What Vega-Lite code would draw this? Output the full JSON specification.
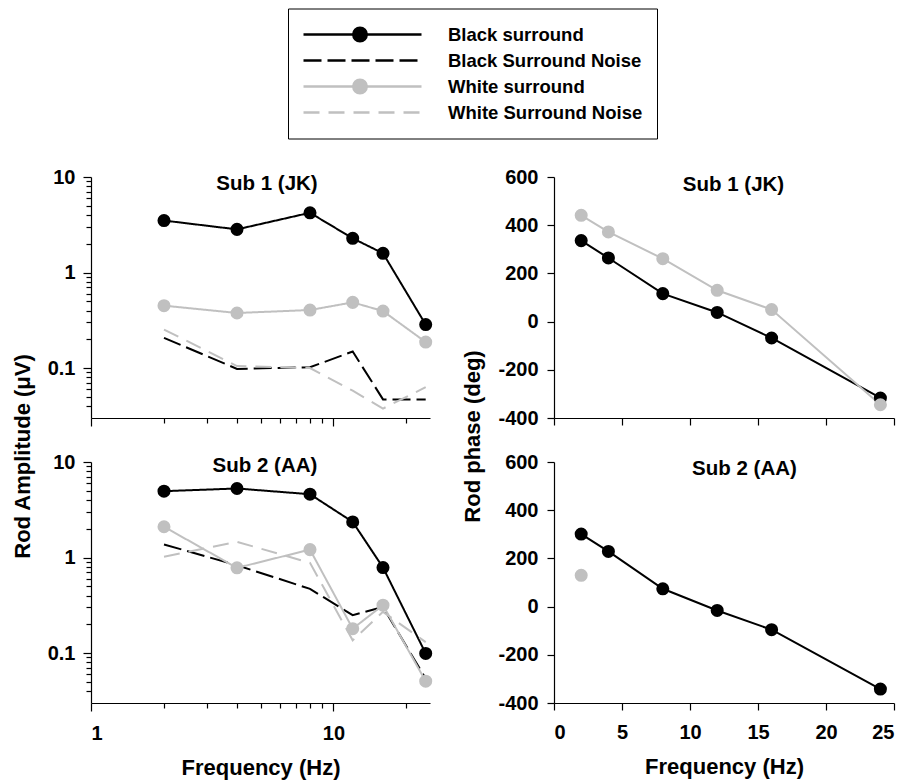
{
  "$schema": "https://vega.github.io/schema/vega-lite/v6.json",
  "background": "white",
  "padding": {"left": 10, "top": 8, "right": 5, "bottom": 5},
  "datasets": {
    "amp": [
      {"subject": "Sub 1 (JK)", "series": "Black surround", "freq": 2, "amp": 3.5},
      {"subject": "Sub 1 (JK)", "series": "Black surround", "freq": 4, "amp": 2.83},
      {"subject": "Sub 1 (JK)", "series": "Black surround", "freq": 8, "amp": 4.22},
      {"subject": "Sub 1 (JK)", "series": "Black surround", "freq": 12, "amp": 2.28},
      {"subject": "Sub 1 (JK)", "series": "Black surround", "freq": 16, "amp": 1.59},
      {"subject": "Sub 1 (JK)", "series": "Black surround", "freq": 24, "amp": 0.285},
      {"subject": "Sub 1 (JK)", "series": "Black Surround Noise", "freq": 2, "amp": 0.207},
      {"subject": "Sub 1 (JK)", "series": "Black Surround Noise", "freq": 4, "amp": 0.098},
      {"subject": "Sub 1 (JK)", "series": "Black Surround Noise", "freq": 8, "amp": 0.102},
      {"subject": "Sub 1 (JK)", "series": "Black Surround Noise", "freq": 12, "amp": 0.149},
      {"subject": "Sub 1 (JK)", "series": "Black Surround Noise", "freq": 16, "amp": 0.047},
      {"subject": "Sub 1 (JK)", "series": "Black Surround Noise", "freq": 24, "amp": 0.047},
      {"subject": "Sub 1 (JK)", "series": "White surround", "freq": 2, "amp": 0.45},
      {"subject": "Sub 1 (JK)", "series": "White surround", "freq": 4, "amp": 0.377},
      {"subject": "Sub 1 (JK)", "series": "White surround", "freq": 8, "amp": 0.405},
      {"subject": "Sub 1 (JK)", "series": "White surround", "freq": 12, "amp": 0.487},
      {"subject": "Sub 1 (JK)", "series": "White surround", "freq": 16, "amp": 0.395},
      {"subject": "Sub 1 (JK)", "series": "White surround", "freq": 24, "amp": 0.187},
      {"subject": "Sub 1 (JK)", "series": "White Surround Noise", "freq": 2, "amp": 0.253},
      {"subject": "Sub 1 (JK)", "series": "White Surround Noise", "freq": 4, "amp": 0.105},
      {"subject": "Sub 1 (JK)", "series": "White Surround Noise", "freq": 8, "amp": 0.1},
      {"subject": "Sub 1 (JK)", "series": "White Surround Noise", "freq": 12, "amp": 0.058},
      {"subject": "Sub 1 (JK)", "series": "White Surround Noise", "freq": 16, "amp": 0.0377},
      {"subject": "Sub 1 (JK)", "series": "White Surround Noise", "freq": 24, "amp": 0.063},
      {"subject": "Sub 2 (AA)", "series": "Black surround", "freq": 2, "amp": 4.95},
      {"subject": "Sub 2 (AA)", "series": "Black surround", "freq": 4, "amp": 5.28},
      {"subject": "Sub 2 (AA)", "series": "Black surround", "freq": 8, "amp": 4.6},
      {"subject": "Sub 2 (AA)", "series": "Black surround", "freq": 12, "amp": 2.36},
      {"subject": "Sub 2 (AA)", "series": "Black surround", "freq": 16, "amp": 0.786},
      {"subject": "Sub 2 (AA)", "series": "Black surround", "freq": 24, "amp": 0.099},
      {"subject": "Sub 2 (AA)", "series": "Black Surround Noise", "freq": 2, "amp": 1.37},
      {"subject": "Sub 2 (AA)", "series": "Black Surround Noise", "freq": 4, "amp": 0.83},
      {"subject": "Sub 2 (AA)", "series": "Black Surround Noise", "freq": 8, "amp": 0.47},
      {"subject": "Sub 2 (AA)", "series": "Black Surround Noise", "freq": 12, "amp": 0.249},
      {"subject": "Sub 2 (AA)", "series": "Black Surround Noise", "freq": 16, "amp": 0.304},
      {"subject": "Sub 2 (AA)", "series": "Black Surround Noise", "freq": 24, "amp": 0.054},
      {"subject": "Sub 2 (AA)", "series": "White surround", "freq": 2, "amp": 2.1},
      {"subject": "Sub 2 (AA)", "series": "White surround", "freq": 4, "amp": 0.78},
      {"subject": "Sub 2 (AA)", "series": "White surround", "freq": 8, "amp": 1.21},
      {"subject": "Sub 2 (AA)", "series": "White surround", "freq": 12, "amp": 0.18},
      {"subject": "Sub 2 (AA)", "series": "White surround", "freq": 16, "amp": 0.317},
      {"subject": "Sub 2 (AA)", "series": "White surround", "freq": 24, "amp": 0.0507},
      {"subject": "Sub 2 (AA)", "series": "White Surround Noise", "freq": 2, "amp": 1.02},
      {"subject": "Sub 2 (AA)", "series": "White Surround Noise", "freq": 4, "amp": 1.46},
      {"subject": "Sub 2 (AA)", "series": "White Surround Noise", "freq": 8, "amp": 0.88},
      {"subject": "Sub 2 (AA)", "series": "White Surround Noise", "freq": 12, "amp": 0.136},
      {"subject": "Sub 2 (AA)", "series": "White Surround Noise", "freq": 16, "amp": 0.27},
      {"subject": "Sub 2 (AA)", "series": "White Surround Noise", "freq": 24, "amp": 0.13}
    ],
    "phase": [
      {"subject": "Sub 1 (JK)", "series": "Black surround", "freq": 2, "phase": 336},
      {"subject": "Sub 1 (JK)", "series": "Black surround", "freq": 4, "phase": 264},
      {"subject": "Sub 1 (JK)", "series": "Black surround", "freq": 8, "phase": 116},
      {"subject": "Sub 1 (JK)", "series": "Black surround", "freq": 12, "phase": 38},
      {"subject": "Sub 1 (JK)", "series": "Black surround", "freq": 16, "phase": -68},
      {"subject": "Sub 1 (JK)", "series": "Black surround", "freq": 24, "phase": -317},
      {"subject": "Sub 1 (JK)", "series": "White surround", "freq": 2, "phase": 441},
      {"subject": "Sub 1 (JK)", "series": "White surround", "freq": 4, "phase": 372},
      {"subject": "Sub 1 (JK)", "series": "White surround", "freq": 8, "phase": 261},
      {"subject": "Sub 1 (JK)", "series": "White surround", "freq": 12, "phase": 130},
      {"subject": "Sub 1 (JK)", "series": "White surround", "freq": 16, "phase": 50},
      {"subject": "Sub 1 (JK)", "series": "White surround", "freq": 24, "phase": -345},
      {"subject": "Sub 2 (AA)", "series": "Black surround", "freq": 2, "phase": 301},
      {"subject": "Sub 2 (AA)", "series": "Black surround", "freq": 4, "phase": 229},
      {"subject": "Sub 2 (AA)", "series": "Black surround", "freq": 8, "phase": 74},
      {"subject": "Sub 2 (AA)", "series": "Black surround", "freq": 12, "phase": -16},
      {"subject": "Sub 2 (AA)", "series": "Black surround", "freq": 16, "phase": -96},
      {"subject": "Sub 2 (AA)", "series": "Black surround", "freq": 24, "phase": -342},
      {"subject": "Sub 2 (AA)", "series": "White surround", "freq": 2, "phase": 130}
    ]
  },
  "columns": 2,
  "spacing": {"row": 44, "column": 124},
  "bounds": "flush",
  "concat": [
    {
      "width": 339, "height": 241,
      "data": {"name": "amp"},
      "transform": [{"filter": "datum.subject == 'Sub 1 (JK)'"}],
      "resolve": {"axis": {"x": "independent"}},
      "encoding": {
        "x": {"field": "freq", "type": "quantitative",
          "scale": {"type": "log", "domain": [1, 25], "nice": false},
          "axis": {"title": null, "labels": false, "values": [1, 2, 3, 4, 5, 6, 7, 8, 9, 10, 20],
            "tickSize": {"condition": {"test": "datum.value == 1 || datum.value == 10", "value": 8}, "value": 5}}},
        "y": {"field": "amp", "type": "quantitative",
          "scale": {"type": "log", "domain": [0.03, 10], "nice": false},
          "axis": {"title": null, "values": [0.04, 0.05, 0.06, 0.07, 0.08, 0.09, 0.1, 0.2, 0.3, 0.4, 0.5, 0.6, 0.7, 0.8, 0.9, 1, 2, 3, 4, 5, 6, 7, 8, 9, 10],
            "labelExpr": "datum.value == 0.1 ? '0.1' : datum.value == 1 ? '1' : datum.value == 10 ? '10' : ''",
            "labelPadding": 8,
            "tickSize": {"condition": {"test": "datum.value == 0.1 || datum.value == 1 || datum.value == 10", "value": 8}, "value": 5}}}
      },
      "layer": [
        {
          "mark": {"type": "line", "strokeWidth": 2},
          "encoding": {
            "color": {"field": "series", "type": "nominal",
              "scale": {"domain": ["Black surround", "Black Surround Noise", "White surround", "White Surround Noise"], "range": ["black", "black", "#c0c0c0", "#c0c0c0"]},
              "legend": {
                "title": null, "orient": "none", "legendX": 197, "legendY": -168.5,
                "padding": 14, "strokeColor": "black",
                "symbolType": "stroke", "symbolSize": 13924, "symbolStrokeWidth": 2.5, "clipHeight": 24, "rowPadding": 2,
                "labelOffset": 25, "labelFont": "Liberation Sans", "labelFontWeight": "bold", "labelFontSize": 18.5, "labelColor": "black", "labelLimit": 400
              }},
            "strokeDash": {"field": "series", "type": "nominal",
              "scale": {"domain": ["Black surround", "Black Surround Noise", "White surround", "White Surround Noise"], "range": [[1, 0], [18, 6], [1, 0], [16, 9]]}}
          }
        },
        {
          "transform": [{"filter": "indexof(datum.series, 'Noise') < 0"}],
          "mark": {"type": "circle", "size": 170, "opacity": 1},
          "encoding": {
            "x": {"field": "freq", "type": "quantitative",
              "scale": {"type": "log", "domain": [1, 25], "nice": false},
              "axis": {"orient": "top", "title": "Sub 1 (JK)", "domain": false, "ticks": false, "labels": false,
                "titleX": 175.5, "titleY": 12, "titleBaseline": "alphabetic", "titleFontSize": 20.5}},
            "fill": {"field": "series", "type": "nominal",
            "scale": {"range": ["black", "#c0c0c0"]},
            "legend": {
              "title": null, "orient": "none", "legendX": 247, "legendY": -168.5,
              "values": ["Black surround", "Black Surround Noise", "White surround", "White Surround Noise"],
              "symbolType": "circle", "symbolSize": 254, "symbolStrokeWidth": 0, "symbolOpacity": 1,
              "padding": 14, "clipHeight": 24, "rowPadding": 2, "labelExpr": "''"
            }}}
        }
      ]
    },
    {
      "width": 340, "height": 241,
      "data": {"name": "phase"},
      "transform": [{"filter": "datum.subject == 'Sub 1 (JK)'"}],
      "resolve": {"axis": {"x": "independent"}},
      "encoding": {
        "x": {"field": "freq", "type": "quantitative",
          "scale": {"domain": [0, 25], "nice": false},
          "axis": {"title": null, "labels": false, "values": [0, 5, 10, 15, 20, 25], "tickSize": 7}},
        "y": {"field": "phase", "type": "quantitative",
          "scale": {"domain": [-400, 600], "nice": false},
          "axis": {"title": null, "values": [-400, -200, 0, 200, 400, 600], "tickSize": 7, "labelPadding": 9, "labelExpr": "'' + datum.value"}}
      },
      "layer": [
        {
          "mark": {"type": "line", "strokeWidth": 2},
          "encoding": {"color": {"field": "series", "type": "nominal"}}
        },
        {
          "mark": {"type": "circle", "size": 170, "opacity": 1},
          "encoding": {
            "x": {"field": "freq", "type": "quantitative",
              "scale": {"domain": [0, 25], "nice": false},
              "axis": {"orient": "top", "title": "Sub 1 (JK)", "domain": false, "ticks": false, "labels": false,
                "titleX": 179, "titleY": 13, "titleBaseline": "alphabetic", "titleFontSize": 20.5}},
            "fill": {"field": "series", "type": "nominal"}}
        }
      ]
    },
    {
      "width": 339, "height": 241,
      "data": {"name": "amp"},
      "transform": [{"filter": "datum.subject == 'Sub 2 (AA)'"}],
      "resolve": {"axis": {"x": "independent"}},
      "encoding": {
        "x": {"field": "freq", "type": "quantitative",
          "scale": {"type": "log", "domain": [1, 25], "nice": false},
          "axis": {"title": "Frequency (Hz)", "values": [1, 2, 3, 4, 5, 6, 7, 8, 9, 10, 20],
            "labelExpr": "datum.value == 1 ? '1' : datum.value == 10 ? '10' : ''",
            "labelPadding": 12, "titlePadding": 14,
            "tickSize": {"condition": {"test": "datum.value == 1 || datum.value == 10", "value": 8}, "value": 5}}},
        "y": {"field": "amp", "type": "quantitative",
          "scale": {"type": "log", "domain": [0.03, 10], "nice": false},
          "axis": {"title": "Rod Amplitude (μV)", "titleX": -57, "titleY": -6,
            "values": [0.04, 0.05, 0.06, 0.07, 0.08, 0.09, 0.1, 0.2, 0.3, 0.4, 0.5, 0.6, 0.7, 0.8, 0.9, 1, 2, 3, 4, 5, 6, 7, 8, 9, 10],
            "labelExpr": "datum.value == 0.1 ? '0.1' : datum.value == 1 ? '1' : datum.value == 10 ? '10' : ''",
            "labelPadding": 8,
            "tickSize": {"condition": {"test": "datum.value == 0.1 || datum.value == 1 || datum.value == 10", "value": 8}, "value": 5}}}
      },
      "layer": [
        {
          "mark": {"type": "line", "strokeWidth": 2},
          "encoding": {
            "color": {"field": "series", "type": "nominal"},
            "strokeDash": {"field": "series", "type": "nominal"}
          }
        },
        {
          "transform": [{"filter": "indexof(datum.series, 'Noise') < 0"}],
          "mark": {"type": "circle", "size": 170, "opacity": 1},
          "encoding": {
            "x": {"field": "freq", "type": "quantitative",
              "scale": {"type": "log", "domain": [1, 25], "nice": false},
              "axis": {"orient": "top", "title": "Sub 2 (AA)", "domain": false, "ticks": false, "labels": false,
                "titleX": 173.5, "titleY": 9, "titleBaseline": "alphabetic", "titleFontSize": 20.5}},
            "fill": {"field": "series", "type": "nominal"}}
        }
      ]
    },
    {
      "width": 340, "height": 241,
      "data": {"name": "phase"},
      "transform": [{"filter": "datum.subject == 'Sub 2 (AA)'"}],
      "resolve": {"axis": {"x": "independent"}},
      "encoding": {
        "x": {"field": "freq", "type": "quantitative",
          "scale": {"domain": [0, 25], "nice": false},
          "axis": {"title": "Frequency (Hz)", "values": [0, 5, 10, 15, 20, 25], "tickSize": 7, "labelPadding": 12, "titlePadding": 14}},
        "y": {"field": "phase", "type": "quantitative",
          "scale": {"domain": [-400, 600], "nice": false},
          "axis": {"title": "Rod phase (deg)", "titleX": -70, "titleY": -26,
            "values": [-400, -200, 0, 200, 400, 600], "tickSize": 7, "labelPadding": 9, "labelExpr": "'' + datum.value"}}
      },
      "layer": [
        {
          "mark": {"type": "line", "strokeWidth": 2},
          "encoding": {"color": {"field": "series", "type": "nominal"}}
        },
        {
          "mark": {"type": "circle", "size": 170, "opacity": 1},
          "encoding": {
            "x": {"field": "freq", "type": "quantitative",
              "scale": {"domain": [0, 25], "nice": false},
              "axis": {"orient": "top", "title": "Sub 2 (AA)", "domain": false, "ticks": false, "labels": false,
                "titleX": 190, "titleY": 12, "titleBaseline": "alphabetic", "titleFontSize": 20.5}},
            "fill": {"field": "series", "type": "nominal"}}
        }
      ]
    }
  ],
  "config": {
    "font": "Liberation Sans",
    "view": {"stroke": null},
    "axis": {
      "grid": false, "domainColor": "black", "tickColor": "black", "domainWidth": 1.2, "tickWidth": 1.2,
      "labelColor": "black", "labelFont": "Liberation Sans", "labelFontWeight": "bold", "labelFontSize": 20,
      "titleColor": "black", "titleFont": "Liberation Sans", "titleFontWeight": "bold", "titleFontSize": 22
    }
  }
}
